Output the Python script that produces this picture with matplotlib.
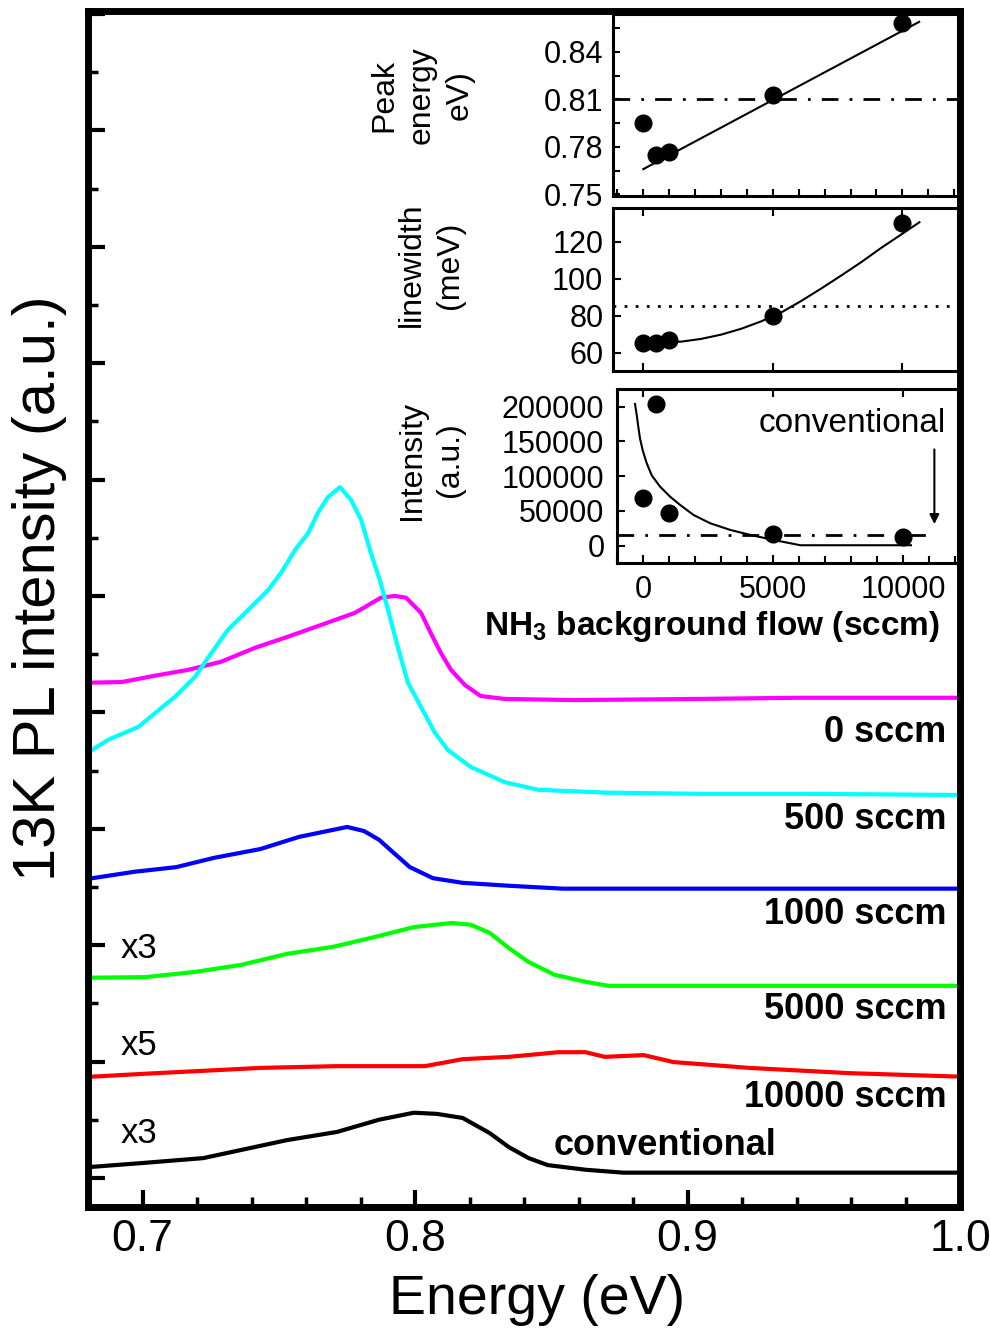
import matplotlib
matplotlib.use("Agg")
import matplotlib.pyplot as plt
from matplotlib.ticker import MultipleLocator, FixedLocator

plt.rcParams["font.family"] = ["Liberation Sans", "DejaVu Sans"]
plt.rcParams["mathtext.default"] = "regular"

# --- main PL spectra (energy in eV, intensity in a.u. with offsets) ---
energy_0 = [0.6813, 0.6923, 0.7047, 0.7168, 0.7289, 0.7414, 0.7534, 0.7655, 0.7780, 0.7875, 0.7926,
            0.7967, 0.8022, 0.8058, 0.8095, 0.8132, 0.8183, 0.8241, 0.8329, 0.8586, 0.9043, 0.9409, 1.0]
pl_0 = [8.51, 8.52, 8.63, 8.73, 8.87, 9.11, 9.30, 9.50, 9.71, 9.97, 10.00,
        9.97, 9.71, 9.36, 9.02, 8.73, 8.47, 8.28, 8.23, 8.21, 8.23, 8.25, 8.25]

energy_500 = [0.6813, 0.6875, 0.6985, 0.7047, 0.7120, 0.7193, 0.7241, 0.7314, 0.7388, 0.7461, 0.7509,
              0.7560, 0.7608, 0.7644, 0.7681, 0.7725, 0.7765, 0.7802, 0.7838, 0.7871, 0.7901, 0.7937,
              0.7974, 0.8022, 0.8073, 0.8121, 0.8205, 0.8329, 0.8450, 0.8696, 0.9043, 0.9409, 1.0]
pl_500 = [7.35, 7.53, 7.75, 7.99, 8.27, 8.61, 8.94, 9.42, 9.76, 10.10, 10.40,
          10.79, 11.08, 11.43, 11.70, 11.87, 11.65, 11.31, 10.74, 10.27, 9.76, 9.12,
          8.51, 8.09, 7.65, 7.35, 7.06, 6.80, 6.67, 6.62, 6.60, 6.60, 6.58]

energy_1000 = [0.6816, 0.6970, 0.7124, 0.7263, 0.7432, 0.7575, 0.7699, 0.7751, 0.7813, 0.7868, 0.7923,
               0.7981, 0.8066, 0.8175, 0.8344, 0.8542, 0.9003, 1.0]
pl_1000 = [5.15, 5.26, 5.34, 5.50, 5.65, 5.86, 5.98, 6.03, 5.96, 5.81, 5.58,
           5.34, 5.15, 5.07, 5.02, 4.97, 4.97, 4.97]

energy_5000 = [0.6816, 0.7011, 0.7194, 0.7362, 0.7531, 0.7699, 0.7853, 0.7996, 0.8135, 0.8205, 0.8274,
               0.8344, 0.8417, 0.8512, 0.8626, 0.8710, 0.9043, 1.0]
pl_5000 = [3.44, 3.45, 3.54, 3.66, 3.85, 3.97, 4.14, 4.31, 4.38, 4.35, 4.21,
           3.95, 3.71, 3.49, 3.37, 3.30, 3.30, 3.30]

energy_10000 = [0.6816, 0.7011, 0.7223, 0.7432, 0.7714, 0.8036, 0.8175, 0.8344, 0.8527, 0.8626, 0.8696,
                0.8839, 0.8949, 0.9227, 0.9593, 1.0]
pl_10000 = [1.74, 1.79, 1.84, 1.89, 1.92, 1.92, 2.04, 2.08, 2.16, 2.16, 2.08,
            2.11, 1.99, 1.89, 1.80, 1.74]

energy_conv = [0.6816, 0.7011, 0.7223, 0.7362, 0.7531, 0.7714, 0.7868, 0.7996, 0.8080, 0.8175, 0.8274,
               0.8344, 0.8417, 0.8487, 0.8626, 0.8765, 0.9043, 1.0]
pl_conv = [0.19, 0.26, 0.34, 0.48, 0.65, 0.79, 1.00, 1.12, 1.10, 1.03, 0.77,
           0.53, 0.34, 0.22, 0.14, 0.09, 0.09, 0.09]

curve_labels = ["0 sccm", "500 sccm", "1000 sccm", "5000 sccm", "10000 sccm"]
curve_label_y = [7.66, 6.15, 4.52, 2.89, 1.39]
scale_labels = ["x3", "x5", "x3"]
scale_label_y = [3.95, 2.27, 0.77]

# --- inset data ---
flow = [0, 500, 1000, 5000, 10000]
peak_energy = [0.795, 0.775, 0.777, 0.813, 0.858]
peak_fit_flow = [0, 10650]
peak_fit_energy = [0.766, 0.859]
peak_ref = 0.81

linewidth = [65, 65, 67, 80, 130]
lw_fit_flow = [0, 1470, 2240, 3010, 3790, 4560, 5330, 6100, 6880, 7650, 8420, 9200, 9970, 10660]
lw_fit = [65.2, 66, 67.5, 69.8, 73, 77, 81.8, 88, 94.8, 101.8, 109, 116.8, 124, 130.5]
lw_ref = 85

intensity = [69000, 204000, 46600, 16800, 12100]
int_fit_flow = [-320, -255, -190, -127, -23, 130, 325, 645, 1030, 1417, 1930, 2575, 3350, 4120,
                4890, 5540, 6050, 10300]
int_fit = [203900, 188000, 170000, 154000, 137000, 118600, 101000, 84900, 70500, 58600, 44200,
           32200, 22600, 15400, 9200, 4300, 600, 600]
int_ref = 15000

fig = plt.figure(figsize=(9.9, 13.29), dpi=100)
ax = fig.add_axes([0.0889, 0.0918, 0.8808, 0.8999])

ax.plot(energy_0, pl_0, color="#ff00ff", lw=3)
ax.plot(energy_500, pl_500, color="#00ffff", lw=3)
ax.plot(energy_1000, pl_1000, color="#0000ff", lw=3)
ax.plot(energy_5000, pl_5000, color="#00ff00", lw=3)
ax.plot(energy_10000, pl_10000, color="#ff0000", lw=3)
ax.plot(energy_conv, pl_conv, color="black", lw=3)

for txt, yy in zip(curve_labels, curve_label_y):
    ax.text(0.995, yy, txt, ha="right", va="center", fontsize=26, fontweight="bold")
ax.text(0.9326, 0.55, "conventional", ha="right", va="center", fontsize=26, fontweight="bold")
for txt, yy in zip(scale_labels, scale_label_y):
    ax.text(0.692, yy, txt, ha="left", va="center", fontsize=25)

ax.set_xlim(0.68, 1.0)
ax.set_ylim(-0.5, 20.05)
ax.xaxis.set_major_locator(FixedLocator([0.7, 0.8, 0.9, 1.0]))
ax.xaxis.set_minor_locator(MultipleLocator(0.02))
ax.set_xticklabels(["0.7", "0.8", "0.9", "1.0"])
ax.yaxis.set_major_locator(MultipleLocator(2))
ax.yaxis.set_minor_locator(MultipleLocator(1))
ax.tick_params(which="both", direction="in", top=False, right=False, labelleft=False)
ax.tick_params(which="major", length=12, width=3, labelsize=32, pad=9)
ax.tick_params(which="minor", length=7, width=2.5)
for sp in ax.spines.values():
    sp.set_linewidth(5)

fig.text(537 / 990, 1 - 1300 / 1329, "Energy (eV)", ha="center", va="center", fontsize=40)
fig.text(40 / 990, 1 - 588 / 1329, "13K PL intensity (a.u.)", ha="center", va="center",
         fontsize=43, rotation=90)

# top inset: peak energy
ax1 = fig.add_axes([0.6192, 0.8525, 0.3485, 0.1370])
ax1.set_facecolor("none")
ax1.plot(peak_fit_flow, peak_fit_energy, color="black", lw=1.5)
ax1.axhline(peak_ref, color="black", lw=2, linestyle=(0, (6, 4, 1, 4)))
ax1.plot(flow, peak_energy, "o", color="black", ms=12)
ax1.set_xlim(-1170, 12150)
ax1.set_ylim(0.749, 0.864)
ax1.yaxis.set_major_locator(FixedLocator([0.75, 0.78, 0.81, 0.84]))
ax1.yaxis.set_minor_locator(FixedLocator([0.765, 0.795, 0.825, 0.855]))
ax1.set_yticklabels(["0.75", "0.78", "0.81", "0.84"])
ax1.xaxis.set_major_locator(FixedLocator([0, 5000, 10000]))
ax1.xaxis.set_minor_locator(MultipleLocator(1000))
ax1.tick_params(which="both", direction="in", length=5, width=1.5, labelbottom=False,
                labelsize=22, pad=7)

# middle inset: linewidth
ax2 = fig.add_axes([0.6192, 0.7208, 0.3485, 0.1227])
ax2.set_facecolor("none")
ax2.plot(lw_fit_flow, lw_fit, color="black", lw=1.5)
ax2.axhline(lw_ref, color="black", lw=2, linestyle=(0, (1, 3)))
ax2.plot(flow, linewidth, "o", color="black", ms=12)
ax2.set_xlim(-1170, 12150)
ax2.set_ylim(50.1, 138.2)
ax2.yaxis.set_major_locator(FixedLocator([60, 80, 100, 120]))
ax2.xaxis.set_major_locator(FixedLocator([0, 5000, 10000]))
ax2.tick_params(which="both", direction="in", length=6, width=1.5, top=True,
                labelbottom=False, labelsize=22, pad=7)

# bottom inset: intensity
ax3 = fig.add_axes([0.6232, 0.5764, 0.3445, 0.1309])
ax3.set_facecolor("none")
ax3.plot(int_fit_flow, int_fit, color="black", lw=1.5)
ax3.plot([-1015, 10940], [int_ref, int_ref], color="black", lw=2, linestyle=(0, (6, 4, 1, 4)))
ax3.plot(flow, intensity, "o", color="black", ms=12)
ax3.annotate("", xy=(11200, 27000), xytext=(11200, 142500),
             arrowprops=dict(arrowstyle="-|>", color="black", lw=1.5, mutation_scale=14))
ax3.text(11650, 176000, "conventional", ha="right", va="center", fontsize=24)
ax3.set_xlim(-1015, 12110)
ax3.set_ylim(-24900, 225500)
ax3.yaxis.set_major_locator(FixedLocator([0, 50000, 100000, 150000, 200000]))
ax3.set_yticklabels(["0", "50000", "100000", "150000", "200000"])
ax3.xaxis.set_major_locator(FixedLocator([0, 5000, 10000]))
ax3.xaxis.set_minor_locator(MultipleLocator(1000))
ax3.set_xticklabels(["0", "5000", "10000"])
ax3.tick_params(which="major", direction="in", length=6, width=1.5, top=True,
                labelsize=22, pad=9)
ax3.tick_params(which="minor", direction="in", length=5, width=1.5)

for a in (ax1, ax2, ax3):
    for sp in a.spines.values():
        sp.set_linewidth(2.2)

fig.text(422 / 990, 1 - 95 / 1329, "Peak\nenergy\neV)", ha="center", va="center",
         fontsize=23, rotation=90, linespacing=1.35)
fig.text(431 / 990, 1 - 265 / 1329, "linewidth\n(meV)", ha="center", va="center",
         fontsize=23, rotation=90, linespacing=1.35)
fig.text(431 / 990, 1 - 460 / 1329, "Intensity\n(a.u.)", ha="center", va="center",
         fontsize=23, rotation=90, linespacing=1.35)
fig.text(712 / 990, 1 - 627 / 1329, "NH$_3$ background flow (sccm)", ha="center", va="center",
         fontsize=24, fontweight="bold")

fig.savefig("out.png", dpi=100)
